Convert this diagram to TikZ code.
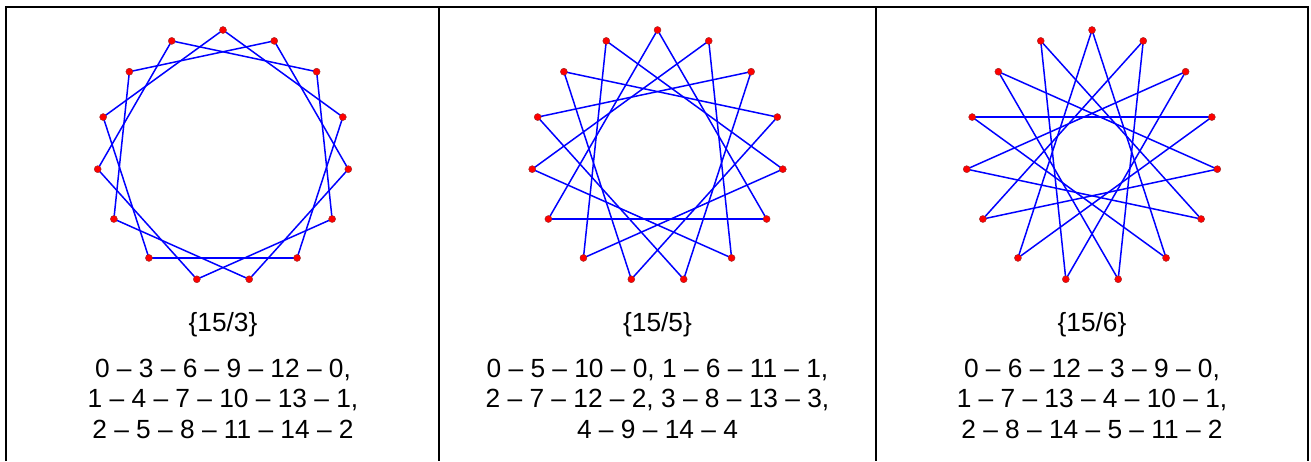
\documentclass[tikz,border=0pt]{standalone}
\usepackage{fontspec}
\setmainfont{Liberation Sans}
\begin{document}
\begin{tikzpicture}[x=1pt,y=-1pt,
  frame/.style={line width=2pt,black},
  edge/.style={blue,line width=1.5pt},
  vdot/.style={circle,fill=red,draw={rgb,255:red,150;green,40;blue,40},line width=0.4pt,inner sep=0pt,minimum size=7pt},
  lbl/.style={font=\fontsize{26.3pt}{30.5pt}\selectfont,inner sep=0pt,anchor=base}]
\useasboundingbox (0,0) rectangle (1311,461);
% frame
\coordinate (fl) at (6,461);
\coordinate (ftl) at (6,7);
\coordinate (ftr) at (1308,7);
\coordinate (fr) at (1308,461);
\coordinate (d1t) at (439,7);
\coordinate (d1b) at (439,461);
\coordinate (d2t) at (876,7);
\coordinate (d2b) at (876,461);
\draw[frame] (fl) -- (ftl) -- (ftr) -- (fr);
\draw[frame] (d1t) -- (d1b);
\draw[frame] (d2t) -- (d2b);
% stars
\foreach \cx/\q/\nm in {223/3/a,657.5/5/b,1092/6/c} {
  \foreach \k in {0,...,14}
    \coordinate (\nm\k) at ({\cx+126*cos(90-24*\k)},{156-126*sin(90-24*\k)});
  \foreach \k in {0,...,14} {
    \pgfmathtruncatemacro\jj{mod(\k+\q,15)}
    \draw[edge] (\nm\k) -- (\nm\jj);
  }
  \foreach \k in {0,...,14}
    \node[vdot] (\nm d\k) at (\nm\k) {};
}
% labels
\node[lbl] (t1) at (223,331) {\{15/3\}};
\node[lbl] (t2) at (657.5,331) {\{15/5\}};
\node[lbl] (t3) at (1092,331) {\{15/6\}};
\node[lbl] (a1) at (223,377) {0 – 3 – 6 – 9 – 12 – 0,};
\node[lbl] (a2) at (223,407.5) {1 – 4 – 7 – 10 – 13 – 1,};
\node[lbl] (a3) at (223,438) {2 – 5 – 8 – 11 – 14 – 2};
\node[lbl] (b1) at (657.5,377) {0 – 5 – 10 – 0, 1 – 6 – 11 – 1,};
\node[lbl] (b2) at (657.5,407.5) {2 – 7 – 12 – 2, 3 – 8 – 13 – 3,};
\node[lbl] (b3) at (657.5,438) {4 – 9 – 14 – 4};
\node[lbl] (c1) at (1092,377) {0 – 6 – 12 – 3 – 9 – 0,};
\node[lbl] (c2) at (1092,407.5) {1 – 7 – 13 – 4 – 10 – 1,};
\node[lbl] (c3) at (1092,438) {2 – 8 – 14 – 5 – 11 – 2};
\end{tikzpicture}
\end{document}
